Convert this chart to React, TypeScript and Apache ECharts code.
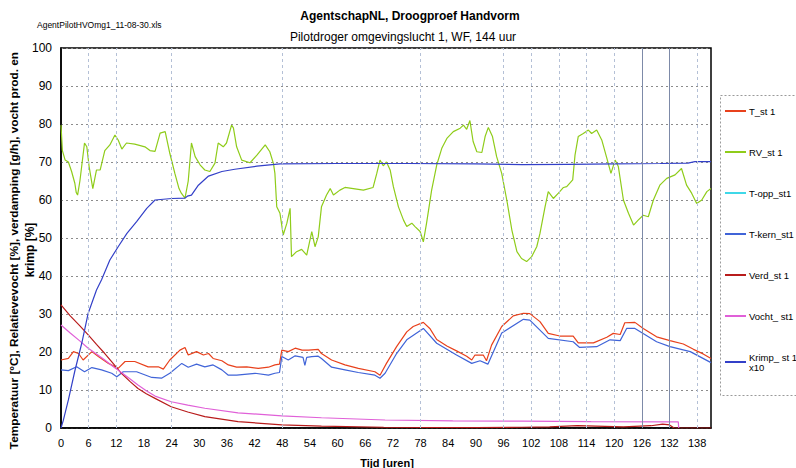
import React, { useEffect, useRef } from 'react';
import * as echarts from 'echarts';

// ---- Data (hours / values) ----
const rvHours = [0, 0.3, 0.9, 1.6, 2.3, 3.0, 3.3, 3.6, 4.1, 5.1, 5.6, 6.1, 6.9, 7.7, 8.5, 9.5, 10.6, 11.7, 12.4, 13.2, 14.2, 16, 18.2, 19.3, 20.4, 21.5, 22.6, 23.6, 24.7, 25.6, 26.1, 26.9, 27.6, 28.3, 29.1, 30.2, 31.2, 32.3, 33.4, 34.1, 35.2, 35.9, 37, 37.4, 38.1, 39.2, 41, 42.5, 44.3, 45.3, 46.1, 46.4, 46.8, 47.5, 48.2, 49, 49.7, 50, 51.1, 52.2, 53.3, 54.4, 55.1, 55.8, 56.5, 57.6, 58.4, 59.1, 60.5, 61.6, 63.4, 65.6, 67.7, 68.5, 69.2, 69.9, 70.6, 71.4, 72.1, 73.2, 74.3, 75, 76.1, 76.8, 77.9, 78.6, 79.3, 80.4, 81.5, 82.6, 83.7, 85.1, 86.6, 87.3, 88, 88.7, 89.4, 90.2, 91.3, 92, 92.7, 93.6, 94.5, 95.6, 96.7, 97.8, 98.9, 99.9, 101, 102.1, 103.2, 103.9, 105, 105.7, 106.8, 107.9, 109, 109.7, 111, 111.5, 112.2, 113.3, 114.4, 115.1, 116.2, 117.3, 118.4, 119.3, 120.2, 120.9, 122, 123.1, 124.2, 125.2, 126.3, 127.4, 128.5, 129.9, 131.4, 133.2, 134.6, 135.7, 136.8, 137.9, 139, 140.1, 141];
const rvValues = [79.7, 73, 70.5, 70, 67.5, 64.4, 62, 61.3, 65, 75, 74, 68.8, 63, 67.9, 67.9, 73, 74.5, 77.1, 75.8, 73.4, 75, 74.7, 74, 73, 72.8, 77.6, 78, 72.3, 67, 63, 61.8, 60.5, 65, 75, 71.4, 69.2, 67.9, 67.5, 69.7, 75, 74, 75, 79.7, 79, 74, 70.5, 69.8, 71.8, 74.5, 72.7, 69.5, 67, 58.2, 56.5, 50.8, 53.9, 57.8, 45.1, 46.4, 47, 45.5, 51.7, 47.7, 50.3, 58.2, 61.3, 63, 61.3, 62.6, 63.3, 63, 62.6, 63.3, 67, 70.5, 69, 70, 67.9, 63.5, 58.2, 54.7, 53, 53.9, 53, 51.7, 49, 53.9, 62.6, 69.2, 73.6, 76.2, 78, 78.9, 79.7, 78.6, 80.9, 75.4, 72.7, 72.5, 76.7, 79.1, 76.7, 71.4, 67, 60, 52.1, 46.4, 44.6, 43.8, 45.1, 47.7, 51.2, 58.2, 62.2, 60.4, 61.8, 63.3, 63.5, 65.3, 71.8, 76.7, 77.5, 78.4, 77.5, 78.4, 75.8, 71, 67, 70.5, 68.8, 60, 56.5, 53.4, 54.7, 56, 55.6, 60, 63.9, 65.7, 66.6, 68.3, 63.9, 61.8, 59.1, 60, 62.2, 63];

const tHours = [0, 1.6, 2.7, 3.8, 4.8, 6.7, 8.1, 10.3, 12.4, 13.9, 16, 18.9, 21.1, 22.2, 23.6, 25.8, 26.9, 27.6, 29.4, 30.9, 32, 33, 34.9, 36.3, 38.1, 40.3, 42.8, 45, 46.4, 47.4, 47.9, 49.3, 50.8, 52.3, 53.7, 55.8, 56.5, 58.7, 61.6, 64.5, 68.1, 69.2, 70.6, 72.8, 75, 76.4, 78.6, 80, 81.5, 83.7, 85.8, 88, 89.1, 89.8, 91.6, 92.3, 93.4, 95.6, 98.1, 100.3, 101.7, 103.9, 105.7, 108.2, 111.1, 112.2, 115.5, 118.4, 119.8, 121.3, 122.3, 124.5, 126.3, 129.2, 132.1, 135, 137.2, 139.3, 141];
const tValues = [17.9, 18.3, 20.1, 19.6, 17.9, 20.1, 18.8, 17, 15.7, 17.5, 17.5, 16.1, 16.1, 15.5, 17.9, 20.5, 21.2, 19.2, 20.1, 19.2, 19.6, 18.3, 17.7, 16.6, 16, 16.1, 15.7, 16, 16.6, 16.8, 20.5, 20.1, 21, 20.5, 20.5, 20.7, 19.6, 17.9, 16.6, 15.7, 14.8, 13.9, 17, 21.4, 25.3, 26.7, 27.8, 26.2, 23.3, 21.6, 20.3, 18.9, 17.9, 19.2, 19.2, 17.7, 21.8, 26.7, 29.5, 30.2, 30.1, 28, 24.9, 24.2, 24.2, 22.4, 22.4, 23.9, 24.9, 24.6, 27.7, 27.8, 26.2, 24, 23, 22.1, 20.7, 19.5, 18.3];

const tkHours = [0, 1.6, 3.4, 5.1, 6.7, 8.8, 11, 12.1, 13.5, 16.4, 19.7, 21.8, 23.6, 26.2, 27.6, 29.4, 31.2, 33, 34.9, 36.3, 38.1, 42.1, 45, 46.4, 47.4, 47.9, 49.3, 50.8, 52.5, 52.9, 53.3, 54.4, 55.8, 56.5, 58.7, 61.6, 64.5, 68.1, 69.2, 70.3, 72.8, 75, 78.6, 81.5, 85.8, 89.1, 90.9, 92.6, 95.6, 100.3, 101.7, 105.7, 111.1, 112.5, 116.2, 119.1, 121.3, 122.7, 124.5, 129.2, 132.1, 136.5, 141];
const tkValues = [15.3, 15.1, 16.1, 14.8, 15.9, 15.3, 14.4, 13.5, 14.8, 14.8, 13.3, 13.1, 14.4, 17, 16, 16.8, 16.1, 16.6, 15.3, 13.9, 13.9, 14.4, 13.9, 14.4, 14.6, 18.8, 17.9, 19, 18.6, 16.5, 18.6, 18.8, 18.9, 18.3, 16, 15.3, 14.6, 13.9, 13.1, 14.4, 19.6, 23.2, 26.2, 22.3, 19.2, 17, 17.7, 16.8, 25, 28.6, 28.4, 23.6, 22.7, 21.2, 21.4, 23.2, 23, 26.2, 26.2, 22.7, 21.4, 20.1, 17.2];

const verdHours = [0, 2, 4, 5.9, 7.7, 9.5, 11.3, 13.1, 15, 16.7, 18.5, 20.4, 23.9, 27.5, 31.2, 38.4, 47.9, 56.5, 70, 90, 100, 106, 112, 116, 122, 128, 130.5, 132, 133, 141];
const verdValues = [32.4, 29.5, 27, 24.5, 22, 19.6, 17, 14.4, 12.2, 10.4, 9, 7.8, 5.6, 4.2, 3, 1.7, 0.8, 0.5, 0.2, 0.1, 0.2, 0.3, 0.6, 0.5, 0.3, 0.6, 1.0, 0.8, 0, 0];

const vochtHours = [0, 2, 4, 5.9, 7.7, 9.5, 11.3, 13.1, 15, 16.7, 18.5, 20.4, 23.9, 27.5, 31.2, 38.4, 47.9, 56.5, 70.3, 85, 100, 115, 133.9, 134];
const vochtValues = [27.1, 25, 23, 21, 19.5, 17.9, 16.2, 14.6, 12.9, 11.3, 9.8, 8.4, 6.9, 6, 5.2, 4, 3.2, 2.7, 2.1, 1.9, 1.8, 1.7, 1.6, 0];

const krimpHours = [0, 0.5, 1.6, 3, 4.5, 5.9, 7.7, 8.8, 10.6, 12.4, 14.3, 16.4, 18.6, 20.4, 24, 26.9, 27.4, 28.3, 29.8, 32, 34.9, 37.7, 42.5, 47.5, 60, 75, 90, 100, 110, 120, 130, 136, 137.5, 141];
const krimpValues = [0, 2, 7.4, 15, 22.3, 30.2, 36.3, 39, 44.2, 47.7, 51.2, 54.3, 57.8, 60, 60.4, 60.5, 61, 61.3, 63.9, 66.3, 67.5, 68.1, 68.9, 69.5, 69.6, 69.6, 69.5, 69.3, 69.4, 69.5, 69.6, 69.7, 70.1, 70.1];

const vGridHours = [6, 12, 24, 48, 78, 96, 102, 108, 114, 120, 126, 132, 138];
const darkGridHours = [126, 132];

const seriesNames = ['T_st 1', 'RV_st 1', 'T-opp_st1', 'T-kern_st1', 'Verd_st 1', 'Vocht_ st1', 'Krimp_ st 1\nx10'];
const seriesColors = ['#e8411c', '#8fcc1a', '#3fd8e8', '#4064d8', '#b81c1c', '#e060d8', '#3340c8'];

const zip = (h: number[], v: number[]) => h.map((x, i) => [x, v[i]]);

const FONT = '"Liberation Sans", Arial, sans-serif';

export default function App() {
  const ref = useRef<HTMLDivElement>(null);
  useEffect(() => {
    if (!ref.current) return;
    const chart = echarts.init(ref.current, undefined, { renderer: 'svg' });
    const dataSets = [
      zip(tHours, tValues),
      zip(rvHours, rvValues),
      [],
      zip(tkHours, tkValues),
      zip(verdHours, verdValues),
      zip(vochtHours, vochtValues),
      zip(krimpHours, krimpValues),
    ];
    const lineSeries = seriesNames.map((name, i) => ({
      name,
      type: 'line',
      data: dataSets[i],
      symbol: 'none',
      showSymbol: false,
      color: seriesColors[i],
      lineStyle: { width: 1.2, color: seriesColors[i] },
      z: 3,
    }));
    const gridSeries = {
      name: 'vgrid',
      type: 'line',
      data: [],
      z: 1,
      silent: true,
      markLine: {
        silent: true,
        symbol: 'none',
        label: { show: false },
        animation: false,
        data: vGridHours.map((h) => ({
          xAxis: h,
          lineStyle: darkGridHours.includes(h)
            ? { color: '#7d8aa8', type: 'solid', width: 1 }
            : { color: '#b4c0d6', type: [3, 3], width: 1 },
        })),
      },
    };
    chart.setOption({
      animation: false,
      textStyle: { fontFamily: FONT },
      grid: {
        left: 61,
        top: 48,
        width: 650,
        height: 380,
        show: true,
        borderColor: '#000',
        borderWidth: 1.5,
        containLabel: false,
      },
      xAxis: {
        type: 'value',
        min: 0,
        max: 141,
        interval: 6,
        axisLine: { lineStyle: { color: '#000', width: 1.5 } },
        axisTick: { show: false },
        splitLine: { show: false },
        axisLabel: {
          color: '#000',
          fontSize: 11,
          fontFamily: FONT,
          margin: 9,
          formatter: (v: number) => (v % 6 === 0 ? String(v) : ''),
        },
      },
      yAxis: {
        type: 'value',
        min: 0,
        max: 100,
        interval: 10,
        axisLine: { show: true, lineStyle: { color: '#000', width: 1.5 } },
        axisTick: { show: false },
        splitLine: { show: true, lineStyle: { color: '#8c8c8c', type: [2, 3], width: 1 } },
        axisLabel: { color: '#000', fontSize: 12, fontFamily: FONT, margin: 9 },
      },
      legend: {
        orient: 'vertical',
        left: 725,
        top: 106,
        padding: 0,
        itemGap: 31,
        itemWidth: 21,
        itemHeight: 2,
        icon: 'rect',
        itemStyle: { borderWidth: 0 },
        data: seriesNames,
        textStyle: { fontSize: 9.5, color: '#000', fontFamily: FONT, padding: [0, 0, 0, -2] },
        selectedMode: false,
      },
      graphic: [
        {
          type: 'rect',
          shape: { x: 720.5, y: 95.5, width: 80, height: 300 },
          style: { fill: 'none', stroke: '#9a9a9a', lineWidth: 1, lineDash: [2, 2] },
          silent: true,
        },
        {
          type: 'text',
          x: 410,
          y: 16,
          style: { text: 'AgentschapNL, Droogproef Handvorm', font: `bold 12px ${FONT}`, fill: '#000', textAlign: 'center', textVerticalAlign: 'middle' },
        },
        {
          type: 'text',
          x: 403,
          y: 37,
          style: { text: 'Pilotdroger omgevingslucht 1, WF, 144 uur', font: `12px ${FONT}`, fill: '#000', textAlign: 'center', textVerticalAlign: 'middle' },
        },
        {
          type: 'text',
          x: 37,
          y: 25,
          style: { text: 'AgentPilotHVOmg1_11-08-30.xls', font: `8.5px ${FONT}`, fill: '#000', textAlign: 'left', textVerticalAlign: 'middle' },
        },
        {
          type: 'text',
          x: 387,
          y: 463,
          style: { text: 'Tijd [uren]', font: `bold 11px ${FONT}`, fill: '#000', textAlign: 'center', textVerticalAlign: 'middle' },
        },
        {
          type: 'text',
          x: 14,
          y: 52,
          rotation: Math.PI / 2,
          style: {
            text: 'Temperatuur [°C], Relatievevocht [%], verdamping [g/h], vocht prod. en',
            font: `bold 11.8px ${FONT}`,
            fill: '#000',
            textAlign: 'right',
            textVerticalAlign: 'middle',
          },
        },
        {
          type: 'text',
          x: 30,
          y: 250,
          rotation: Math.PI / 2,
          style: { text: 'krimp [%]', font: `bold 12px ${FONT}`, fill: '#000', textAlign: 'center', textVerticalAlign: 'middle' },
        },
      ],
      series: [gridSeries, ...lineSeries],
    });
    return () => chart.dispose();
  }, []);
  return <div ref={ref} style={{ position: 'fixed', left: 0, top: 0, width: 796, height: 468, background: '#fff' }} />;
}
